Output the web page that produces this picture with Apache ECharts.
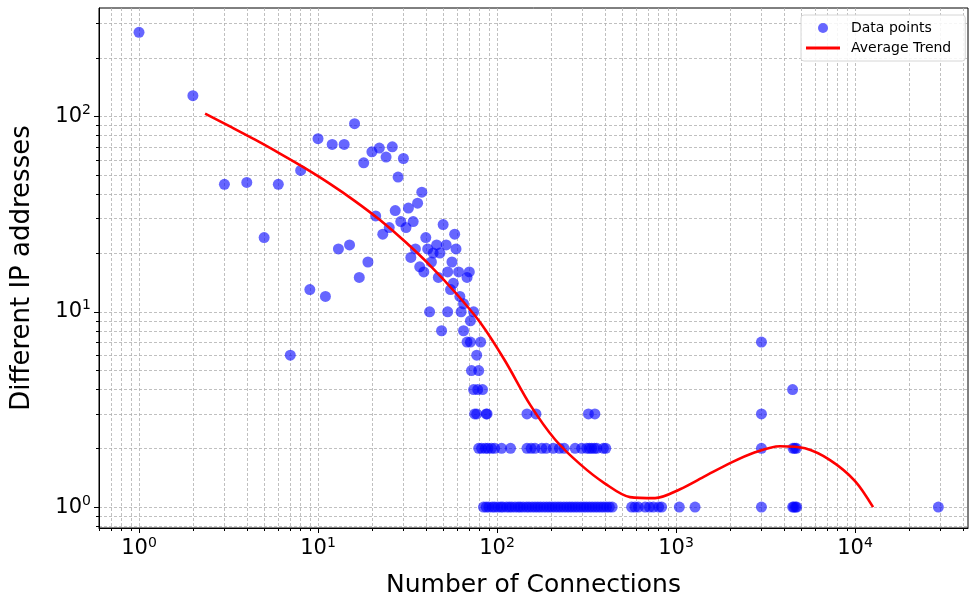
<!DOCTYPE html>
<html>
<head>
<meta charset="utf-8">
<script src="https://cdn.jsdelivr.net/npm/echarts@6/dist/echarts.min.js"></script>
<style>
  html, body { margin: 0; padding: 0; background: #fff; }
  #chart { width: 969px; height: 603px; }
</style>
</head>
<body>
<div id="chart"></div>
<script>
// connections vs distinct ip addresses (log-log)
const connections = [
  1, 2, 3, 4, 5, 6, 7, 8, 9, 10, 11, 12, 13, 14, 15, 16, 17, 18, 19, 20,
  21, 22, 23, 24, 25, 26, 27, 28, 29, 30, 31, 32, 33, 34, 35, 36, 37, 38, 39, 40,
  41, 42, 43, 44, 46, 47, 48, 49, 50, 52, 53, 53, 55, 56, 57, 58, 59, 61, 62, 63,
  65, 65, 68, 68, 70, 71, 71, 72, 74, 74, 77, 77, 78, 79, 81, 83, 88,
  3000, 4480
];
const ipCounts = [
  270, 128, 45, 46, 24, 45, 6, 53, 13, 77, 12, 72, 21, 72, 22, 92, 15, 58, 18, 66,
  31, 69, 25, 62, 27, 70, 33, 49, 29, 61, 27, 34, 19, 29, 21, 36, 17, 41, 16, 24,
  21, 10, 18, 20, 22, 15, 20, 8, 28, 22, 16, 10, 13, 18, 14, 25, 21, 16, 12, 10,
  11, 8, 15, 7, 16, 9, 7, 5, 10, 4, 6, 3, 4, 5, 7, 4, 3,
  7, 4
];
// rows of points sitting on 3, 2 and 1 addresses
const connAt3 = [75, 87, 147, 165, 324, 352, 3000];
const connAt2 = [79, 82, 86, 89, 93, 97, 106, 119, 147, 155, 163, 178, 188, 206, 223, 237,
  273, 297, 317, 328, 338, 350, 361, 393, 405, 3000, 4500, 4600, 4700];
const connAt1 = [84, 87, 90, 94, 97, 101, 105, 108, 113, 117, 121, 126, 131, 135, 140, 146,
  151, 157, 163, 169, 175, 182, 189, 196, 203, 211, 219, 227, 236, 245, 254, 263, 273, 283,
  294, 305, 316, 328, 340, 353, 366, 380, 394, 409, 424, 440, 565, 590, 616, 672, 710, 747,
  800, 831, 1043, 1277, 3000, 4480, 4550, 4650, 4720, 29200];

// average trend
const trendX = [2.34, 3.22, 4.45, 6.13, 8.46, 11.67, 16.09, 22.2, 30.6, 42.2, 58.3, 80.4,
  110.8, 152.9, 210.9, 290.9, 401.2, 553.4, 763.3, 1053, 1452, 2003, 2763, 3811, 5256,
  7251, 10000, 12610];
const trendY = [103.6, 89.0, 76.1, 64.6, 54.4, 45.2, 36.9, 29.5, 22.9, 17.3, 12.6, 8.84,
  5.62, 3.35, 2.22, 1.66, 1.32, 1.125, 1.112, 1.235, 1.44, 1.68, 1.91, 2.05, 2.00,
  1.74, 1.36, 1.0];

const xTickPowers = [0, 1, 2, 3, 4];
const yTickPowers = [0, 1, 2];
const minorSteps = [2, 3, 4, 5, 6, 7, 8, 9];

// axis ranges in log10 units
const xMin = -0.2235, xMax = 4.631;
const yMin = -0.107, yMax = 2.556;

function minorPositions(lo, hi) {
  const out = [];
  for (let d = Math.floor(lo) - 1; d <= Math.ceil(hi); d++) {
    minorSteps.forEach(function (m) {
      const v = d + Math.log10(m);
      if (v > lo && v < hi) out.push(v);
    });
  }
  return out;
}

const FONT = 'DejaVu Sans';
const gridLine = { show: true, lineStyle: { color: '#b0b0b0', type: [3, 2], width: 0.8 } };
const powLabel = function (v) { return '{b|10}{s|' + Math.round(v) + '}'; };
const powRich = {
  b: { fontSize: 21, fontFamily: FONT, color: '#000' },
  s: { fontSize: 14, fontFamily: FONT, color: '#000', padding: [0, 0, 12, 0] }
};

const scatterData = connections.map(function (c, i) { return [Math.log10(c), Math.log10(ipCounts[i])]; })
  .concat(connAt3.map(function (c) { return [Math.log10(c), Math.log10(3)]; }))
  .concat(connAt2.map(function (c) { return [Math.log10(c), Math.log10(2)]; }))
  .concat(connAt1.map(function (c) { return [Math.log10(c), 0]; }));
const trendData = trendX.map(function (c, i) { return [Math.log10(c), Math.log10(trendY[i])]; });

const chart = echarts.init(document.getElementById('chart'));
const option = {
  animation: false,
  grid: { left: 99, right: 1, top: 8, bottom: 73, show: true, borderColor: '#000', borderWidth: 1 },
  legend: {
    orient: 'vertical', left: 801, top: 15,
    padding: [6, 14, 6, 5], itemWidth: 34, itemHeight: 10, itemGap: 6,
    backgroundColor: 'rgba(255,255,255,0.85)', borderColor: '#d6d6d6', borderWidth: 1, borderRadius: 3,
    textStyle: { fontFamily: FONT, fontSize: 14, color: '#000', padding: [0, 0, 0, 6] },
    data: [
      { name: 'Data points', icon: 'circle' },
      { name: 'Average Trend', icon: 'path://M0,0L34,0L34,3L0,3Z' }
    ]
  },
  xAxis: [
    {
      type: 'value', min: xMin, max: xMax, position: 'bottom',
      name: 'Number of Connections', nameLocation: 'middle', nameGap: 45,
      nameTextStyle: { fontFamily: FONT, fontSize: 25, color: '#000' },
      axisLine: { onZero: false, lineStyle: { color: '#000', width: 1 } },
      axisTick: { customValues: xTickPowers, length: 5, lineStyle: { color: '#000' } },
      axisLabel: { customValues: xTickPowers, formatter: powLabel, rich: powRich, margin: 8 },
      splitLine: gridLine
    },
    {
      type: 'value', min: xMin, max: xMax, position: 'bottom',
      axisLine: { show: false, onZero: false },
      axisTick: { customValues: minorPositions(xMin, xMax), length: 3, lineStyle: { color: '#000' } },
      axisLabel: { show: false },
      splitLine: gridLine
    }
  ],
  yAxis: [
    {
      type: 'value', min: yMin, max: yMax, position: 'left',
      name: 'Different IP addresses', nameLocation: 'middle', nameGap: 64,
      nameTextStyle: { fontFamily: FONT, fontSize: 26, color: '#000' },
      axisLine: { show: true, onZero: false, lineStyle: { color: '#000', width: 1 } },
      axisTick: { show: true, customValues: yTickPowers, length: 5, lineStyle: { color: '#000' } },
      axisLabel: { customValues: yTickPowers, formatter: powLabel, rich: powRich, margin: 8 },
      splitLine: gridLine
    },
    {
      type: 'value', min: yMin, max: yMax, position: 'left',
      axisLine: { show: false, onZero: false },
      axisTick: { show: true, customValues: minorPositions(yMin, yMax), length: 3, lineStyle: { color: '#000' } },
      axisLabel: { show: false },
      splitLine: gridLine
    }
  ],
  series: [
    {
      name: 'Data points', type: 'scatter', symbolSize: 11,
      itemStyle: { color: '#0000ff', opacity: 0.6 },
      data: scatterData, z: 3
    },
    {
      name: 'Average Trend', type: 'line', symbol: 'none', smooth: 0.3,
      lineStyle: { color: '#ff0000', width: 2.6 }, itemStyle: { color: '#ff0000' },
      data: trendData, z: 4
    }
  ]
};
option && chart.setOption(option);
</script>
</body>
</html>
